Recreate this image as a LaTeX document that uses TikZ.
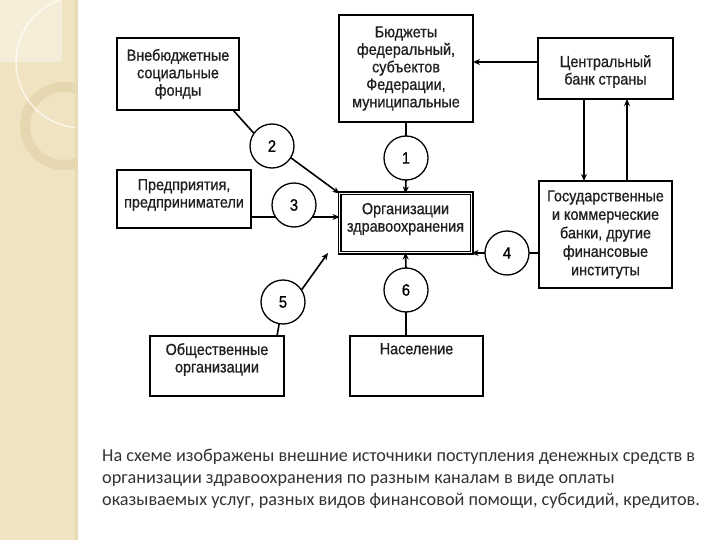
\documentclass[tikz,border=0pt]{standalone}
\usepackage{fontspec}
\setmainfont{Liberation Sans}
\newfontfamily\diafont[FakeStretch=0.9, FakeBold=0.8]{Liberation Sans}
\newfontfamily\capfont{Carlito}
\usetikzlibrary{arrows.meta}
\definecolor{strip}{HTML}{EFE3C2}
\definecolor{stripl}{HTML}{F5EDD8}
\definecolor{ring}{HTML}{E3D4AA}
\definecolor{captxt}{HTML}{333333}
\begin{document}
\begin{tikzpicture}[x=1pt,y=-1pt,
 box/.style={draw=black, line width=2pt, fill=white, inner sep=0pt, outer sep=0pt, align=center},
 lbl/.style={font=\diafont\fontsize{16}{17.5}\selectfont, text=black!88, align=center, inner sep=0pt},
 num/.style={draw, circle, line width=1.3pt, fill=white, minimum size=44pt, inner sep=0pt, outer sep=0pt, font=\diafont\fontsize{16.5}{17}\selectfont},
 conn/.style={line width=1.6pt},
 arr/.style={conn, -{Stealth[length=7pt,width=6pt]}},
 captext/.style={font=\capfont\fontsize{18.2}{22}\selectfont, text=captxt, anchor=base west, inner sep=0pt}]
\useasboundingbox (0,0) rectangle (720,540);
\fill[white] (0,0) rectangle (720,540);
% decorative strip
\fill[strip] (0,0) rectangle (78,540);
\fill[ring!60!strip] (75,0) rectangle (78,540);
\begin{scope}
\clip (0,0) rectangle (75,540);
\fill[stripl] (0,0) rectangle (62,62);
\draw[ring!80!strip, line width=10pt] (64,126) circle[radius=39];
\draw[white, opacity=0.7, line width=1.5pt] (82,62) circle[radius=66];
\end{scope}
% boxes
\node[box, minimum width=122, minimum height=72] (vnb) at (178,74) {};
\node[lbl] at (vnb) {Внебюджетные\\социальные\\фонды};
\node[box, minimum width=134, minimum height=107] (bud) at (406,68.5) {};
\node[lbl] at (bud) {Бюджеты\\федеральный,\\субъектов\\Федерации,\\муниципальные};
\node[box, minimum width=135, minimum height=61] (cb) at (605.5,68.5) {};
\node[lbl] at ([yshift=-3]cb.center) {Центральный\\банк страны};
\node[box, minimum width=134, minimum height=58] (pred) at (184,199) {};
\node[lbl] at ([yshift=4]pred.center) {Предприятия,\\предприниматели};
\node[box, line width=1.2pt, double=white, double distance=1.6pt, minimum width=132, minimum height=59] (org) at (405.5,223) {};
\node[lbl] at ([yshift=4]org.center) {Организации\\здравоохранения};
\node[box, minimum width=133, minimum height=107] (gb) at (605.5,234.5) {};
\node[lbl, font=\diafont\fontsize{16}{18.5}\selectfont] at (gb) {Государственные\\и коммерческие\\банки, другие\\финансовые\\институты};
\node[box, minimum width=134, minimum height=60] (obs) at (217,366) {};
\node[lbl, anchor=north] at ([yshift=-7]obs.north) {Общественные\\организации};
\node[box, minimum width=133, minimum height=60] (nas) at (416.5,366) {};
\node[lbl, anchor=north] at ([yshift=-7]nas.north) {Население};
% numbered circles
\coordinate (p3) at (251,217);
\draw[arr] (p3) -- (p3 -| org.west);
\node[num] (c1) at (406,158) {1};
\node[num] (c2) at (272,146) {2};
\node[num] (c3) at (294,205) {3};
\node[num] (c4) at (507,253) {4};
\node[num] (c5) at (283,302) {5};
\node[num] (c6) at (406,290) {6};
% connectors
\draw[arr] (cb.west |- 0,62) -- (bud.east |- 0,62);
\draw[arr] (cb.south -| 584,0) -- (gb.north -| 584,0);
\draw[arr] (gb.north -| 627,0) -- (cb.south -| 627,0);
\draw[conn] (bud.south) -- (c1.north);
\draw[arr] (c1.south) -- (org.north);
\draw[conn] (vnb.south -| 233,0) -- (c2.145);
\draw[arr] (c2.-32) -- (org.north west);
\draw[conn] (gb.west |- c4) -- (c4.east);
\draw[arr] (c4.west) -- (c4 -| org.east);
\coordinate (t5) at (328,253);
\draw[arr] (c5.33) -- (t5);
\draw[conn] (obs.north -| 277,0) -- (c5.-100);
\draw[conn] (nas.north -| c6) -- (c6.south);
\draw[arr] (c6.north) -- (org.south);
% caption
\node[captext] (l1) at (102,461) {На схеме изображены внешние источники поступления денежных средств в};
\node[captext] (l2) at (102,483) {организации здравоохранения по разным каналам в виде оплаты};
\node[captext] (l3) at (102,505) {оказываемых услуг, разных видов финансовой помощи, субсидий, кредитов.};
\end{tikzpicture}
\end{document}
